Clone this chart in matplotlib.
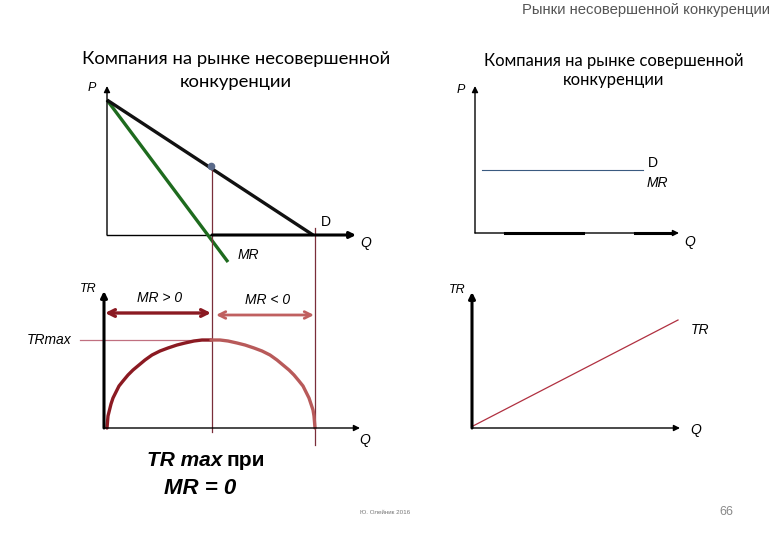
import matplotlib
matplotlib.use("Agg")
import matplotlib.pyplot as plt

# slide-pixel coordinates (x right, y down)
DEMAND_X = [107, 313]
DEMAND_Y = [100, 235]
MR_X = [107, 228]
MR_Y = [100, 262]
DOT = (211, 166)

TR_LEFT_X = [107, 107.5, 108, 109.5, 111, 113, 116, 119, 123, 128, 133, 139,
             145, 152, 160, 168, 177, 185, 194, 202, 211]
TR_LEFT_Y = [428, 422, 416, 410, 404, 398, 392, 386, 381, 375, 370, 365,
             360, 355, 351, 348, 345, 343, 341, 340, 340]
TR_RIGHT_X = [211, 220, 228, 237, 245, 254, 262, 270, 277, 283, 289, 294,
              299, 303, 306, 309, 311, 313, 314, 314.5, 315]
TR_RIGHT_Y = [340, 340, 341, 343, 345, 348, 351, 355, 360, 365, 370, 375,
              381, 386, 392, 398, 404, 410, 416, 422, 428]

PC_D_X = [482, 643]
PC_D_Y = [170, 170]
PC_TR_X = [473, 678]
PC_TR_Y = [426, 320]

FAM = "Liberation Sans"
TITLE_FAM = "Lato"
DARKRED = "#8B1A22"
ROSE = "#B85A5A"
MAROON = "#7A2E3A"

fig = plt.figure(figsize=(7.8, 5.4), dpi=100)
ax = fig.add_axes([0, 0, 1, 1])
ax.set_xlim(0, 780)
ax.set_ylim(540, 0)
ax.axis("off")


def axis_arrow(x0, y0, x1, y1, lw=1.2, color="black"):
    ax.annotate("", xy=(x1, y1), xytext=(x0, y0),
                arrowprops=dict(arrowstyle="-|>", lw=lw, color=color,
                                mutation_scale=9, shrinkA=0, shrinkB=0))


def label(x, y, s, size=10, italic=True, color="black", **kw):
    ax.text(x, y, s, fontsize=size, fontfamily=FAM, color=color,
            fontstyle="italic" if italic else "normal",
            ha=kw.pop("ha", "center"), va=kw.pop("va", "center"), **kw)


# header, footer
label(770, 10, "Рынки несовершенной конкуренции", size=10.7, italic=False,
      color="#555555", ha="right")
label(385, 513, "Ю. Олейник 2016", size=4.5, italic=False, color="#777777")
label(726, 512, "66", size=9, italic=False, color="#888888")

# titles
ax.text(236, 59, "Компания на рынке несовершенной", fontsize=13.3,
        fontfamily=TITLE_FAM, ha="center", va="center")
ax.text(236, 82, "конкуренции", fontsize=13.3, fontfamily=TITLE_FAM,
        ha="center", va="center")
ax.text(614, 61, "Компания на рынке совершенной", fontsize=12.0,
        fontfamily=TITLE_FAM, ha="center", va="center")
ax.text(614, 80, "конкуренции", fontsize=12.0, fontfamily=TITLE_FAM,
        ha="center", va="center")

# ---- imperfect competition: D and MR ----
axis_arrow(107, 235, 107, 86, lw=1.0)
ax.plot([107, 212], [235, 235], color="black", lw=1.0)
axis_arrow(212, 235, 356, 235, lw=2.2)
ax.plot(MR_X, MR_Y, color="#1E6B1E", lw=2.4, solid_capstyle="butt")
ax.plot(DEMAND_X, DEMAND_Y, color="#111111", lw=2.4, solid_capstyle="butt")
ax.plot(*DOT, "o", color="#5A6A8A", ms=4.5, zorder=5)
label(92, 88, "P", size=9)
label(326, 222, "D", size=10, italic=False)
label(366, 243, "Q", size=10)
label(248, 255, "MR", size=10)

# guide lines down to TR chart
ax.plot([212, 212], [DOT[1], 432], color=MAROON, lw=0.9)
ax.plot([315, 315], [228, 445], color=MAROON, lw=0.9)

# ---- imperfect competition: TR ----
axis_arrow(104, 428, 104, 291, lw=2.2)
axis_arrow(104, 428, 360, 428, lw=1.0)
ax.plot([80, 212], [340, 340], color="#C07080", lw=0.9)
ax.plot(TR_LEFT_X, TR_LEFT_Y, color=DARKRED, lw=2.4, solid_capstyle="round")
ax.plot(TR_RIGHT_X, TR_RIGHT_Y, color=ROSE, lw=2.4, solid_capstyle="round")
ax.annotate("", xy=(211, 313), xytext=(105, 313),
            arrowprops=dict(arrowstyle="<->", lw=2.4, color=DARKRED,
                            mutation_scale=12, shrinkA=0, shrinkB=0))
ax.annotate("", xy=(314, 315), xytext=(216, 315),
            arrowprops=dict(arrowstyle="<->", lw=2.0, color="#C06060",
                            mutation_scale=12, shrinkA=0, shrinkB=0))
label(88, 289, "TR", size=9)
label(160, 298, "MR > 0", size=10)
label(268, 300, "MR < 0", size=10)
label(49, 340, "TRmax", size=10)
label(365, 440, "Q", size=10)
ax.text(222, 460, "TR max", fontsize=15, fontfamily=FAM, fontweight="bold",
        fontstyle="italic", ha="right", va="center")
ax.text(227, 460, "при", fontsize=15, fontfamily=FAM, fontweight="bold",
        ha="left", va="center")
ax.text(200, 489, "MR = 0", fontsize=16, fontfamily=FAM, fontweight="bold",
        fontstyle="italic", ha="center", va="center")

# ---- perfect competition: D = MR ----
axis_arrow(475, 233, 475, 86, lw=1.0)
axis_arrow(475, 233, 679, 233, lw=1.0)
ax.plot([505, 583], [233, 233], color="black", lw=2.2)
ax.plot([635, 672], [233, 233], color="black", lw=2.2)
ax.plot(PC_D_X, PC_D_Y, color="#3A5A80", lw=0.8)
label(461, 90, "P", size=9)
label(653, 163, "D", size=10, italic=False)
label(657, 183, "MR", size=10)
label(690, 242, "Q", size=10)

# ---- perfect competition: TR ----
axis_arrow(472, 428, 472, 292, lw=2.2)
axis_arrow(472, 428, 680, 428, lw=1.0)
ax.plot(PC_TR_X, PC_TR_Y, color="#B03040", lw=0.9)
label(457, 290, "TR", size=9)
label(700, 330, "TR", size=10)
label(696, 430, "Q", size=10)

fig.savefig("out.png", dpi=100)
